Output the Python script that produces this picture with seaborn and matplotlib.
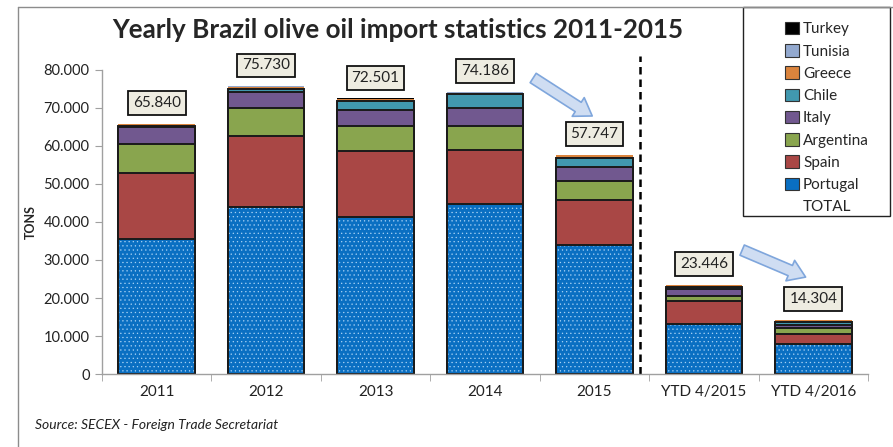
import matplotlib.pyplot as plt
import seaborn as sns
import pandas as pd
from matplotlib.patches import Patch, Rectangle
from matplotlib.lines import Line2D
from matplotlib.ticker import FuncFormatter, FixedLocator

periods = ['2011', '2012', '2013', '2014', '2015', 'YTD 4/2015', 'YTD 4/2016']
portugal = [35600, 44000, 41400, 44700, 33900, 13150, 7800]
spain = [17400, 18500, 17200, 14300, 12000, 6150, 2700]
argentina = [7500, 7400, 6600, 6300, 4900, 1300, 1700]
italy = [4400, 4400, 4200, 4700, 3700, 1700, 700]
chile = [300, 800, 2500, 3600, 2450, 700, 700]
greece = [500, 500, 450, 450, 550, 300, 500]
tunisia = [100, 100, 120, 100, 200, 100, 150]
turkey = [40, 30, 31, 36, 47, 46, 54]

countries = ['Portugal', 'Spain', 'Argentina', 'Italy', 'Chile', 'Greece', 'Tunisia', 'Turkey']
colors = {'Portugal': '#0A6FC2', 'Spain': '#A94745', 'Argentina': '#89A54E',
          'Italy': '#71588F', 'Chile': '#4198AF', 'Greece': '#DB843D',
          'Tunisia': '#93A9CF', 'Turkey': '#000000'}

df = pd.DataFrame({'period': periods, 'Portugal': portugal, 'Spain': spain,
                   'Argentina': argentina, 'Italy': italy, 'Chile': chile,
                   'Greece': greece, 'Tunisia': tunisia, 'Turkey': turkey})
cum = df[countries].cumsum(axis=1)
df['total'] = cum['Turkey']

sns.set_style('white')
plt.rcParams['font.family'] = ['Lato', 'DejaVu Sans']
plt.rcParams['hatch.linewidth'] = 0.4

fig = plt.figure(figsize=(8.93, 4.47), dpi=100)
ax = fig.add_axes([102 / 893, 1 - 374 / 447, (868 - 102) / 893, (374 - 70) / 447])

edge = '#1a1a1a'
thin = {'Turkey': 0, 'Tunisia': 0, 'Greece': 0}
# stacked bars: draw cumulative heights from the top layer down
for c in reversed(countries):
    d = pd.DataFrame({'period': periods, 'v': cum[c]})
    if c == 'Portugal':
        sns.barplot(data=d, x='period', y='v', order=periods, color=colors[c],
                    saturation=1, width=0.7, hatch='....', edgecolor='#a9d2f5',
                    linewidth=0, errorbar=None, ax=ax)
        sns.barplot(data=d, x='period', y='v', order=periods, color=edge,
                    fill=False, width=0.7, linewidth=1.4, errorbar=None, ax=ax)
    else:
        sns.barplot(data=d, x='period', y='v', order=periods, color=colors[c],
                    saturation=1, width=0.7, edgecolor=edge, linewidth=thin.get(c, 1.4),
                    errorbar=None, ax=ax)

ax.set_xlim(-0.5, 6.5)
ax.set_ylim(0, 80000)
ax.set_xlabel('')
ax.set_ylabel('')
ax.yaxis.set_major_locator(FixedLocator(range(0, 80001, 10000)))
ax.yaxis.set_major_formatter(FuncFormatter(lambda v, p: f"{int(v):,}".replace(',', '.')))
ax.xaxis.set_minor_locator(FixedLocator([i - 0.5 for i in range(8)]))
ax.tick_params(axis='x', which='major', length=0, pad=8, labelsize=11, labelcolor='#222')
ax.tick_params(axis='x', which='minor', length=5, color='#a0a0a0', bottom=True)
ax.tick_params(axis='y', length=5, color='#a0a0a0', left=True, pad=4, labelsize=10.5, labelcolor='#222')
for s in ['top', 'right']:
    ax.spines[s].set_visible(False)
for s in ['left', 'bottom']:
    ax.spines[s].set_color('#a0a0a0')
    ax.spines[s].set_linewidth(1)

# total labels
for i, t in enumerate(df['total']):
    ax.annotate(f"{t:,}".replace(',', '.'), (i, t), xytext=(0, 15),
                textcoords='offset points', ha='center', va='center', fontsize=11,
                color='#222',
                bbox=dict(boxstyle='square,pad=0.32', fc='#EEECE1', ec='#111', lw=1.3))

# separator
ax.plot([4.42, 4.42], [0, 83700], ls=(0, (3, 2)), color='black', lw=1.8, clip_on=False)

# arrows
arrow_kw = dict(arrowstyle='simple,head_length=1.2,head_width=1.6,tail_width=0.8',
                fc='#CFDDF2', ec='#7FA6DC', lw=1.2, shrinkA=0, shrinkB=0)
ax.annotate('', xy=(3.98, 67900), xytext=(3.44, 77900), arrowprops=arrow_kw)
ax.annotate('', xy=(5.93, 25500), xytext=(5.35, 32600), arrowprops=arrow_kw)

# texts
fig.text(398 / 893, 1 - 30 / 447, 'Yearly Brazil olive oil import statistics 2011-2015',
         ha='center', va='center', fontsize=18.7, fontweight='bold')
fig.text(31 / 893, 1 - 222 / 447, 'TONS', rotation=90, fontweight='bold', fontsize=9,
         ha='center', va='center')
fig.text(35 / 893, 1 - 425 / 447, 'Source: SECEX - Foreign Trade Secretariat',
         style='italic', fontsize=10, va='center', color='#222')

# outer frame
fig.add_artist(Line2D([18 / 893, 18 / 893], [0, 1 - 7 / 447], transform=fig.transFigure,
                      color='#8c8c8c', lw=1))
fig.add_artist(Line2D([18 / 893, 1], [1 - 7 / 447, 1 - 7 / 447], transform=fig.transFigure,
                      color='#8c8c8c', lw=1))

# legend
leg_order = ['Turkey', 'Tunisia', 'Greece', 'Chile', 'Italy', 'Argentina', 'Spain', 'Portugal']
handles = [Patch(fc=colors[c], ec='#333', lw=0.8) for c in leg_order]
handles.append(Patch(fc='none', ec='none'))
labels = leg_order + ['TOTAL']
fig.add_artist(Rectangle((743 / 893, 1 - 216 / 447), (890 - 743) / 893, (216 - 7) / 447,
                         transform=fig.transFigure, fill=True, fc='white', ec='#222', lw=1))
fig.legend(handles, labels, loc='upper left', bbox_to_anchor=(771 / 893, 1 - 8 / 447),
           frameon=False, fontsize=11, handlelength=0.9, handleheight=0.9,
           handletextpad=0.3, labelspacing=0.5, borderpad=0.4)

fig.savefig('out.png', dpi=100)
